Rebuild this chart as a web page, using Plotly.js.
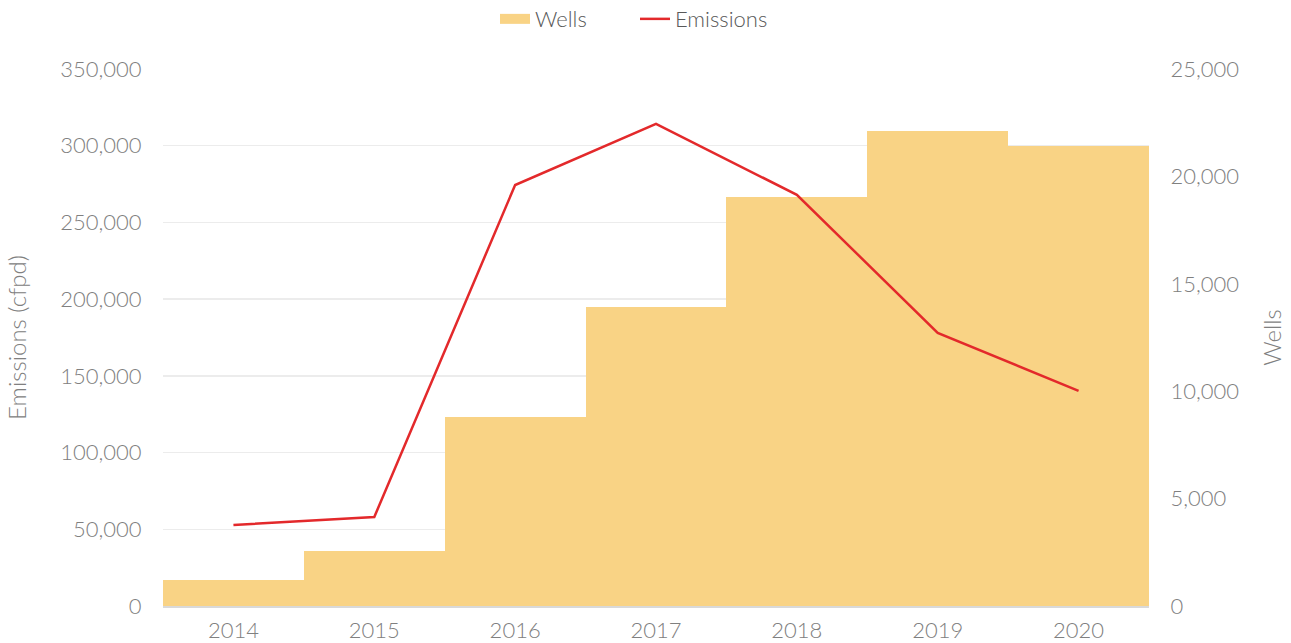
<!DOCTYPE html>
<html>
<head>
<meta charset="utf-8">
<script src="https://cdn.plot.ly/plotly-3.0.1.min.js"></script>
<style>html,body{margin:0;padding:0;background:#fff;}#chart{width:1291px;height:643px;}
#chart .legend .traces{opacity:1 !important;}</style>
</head>
<body>
<div id="chart"></div>
<script>
const years = ['2014','2015','2016','2017','2018','2019','2020'];
const wells = [1200, 2560, 8800, 13900, 19050, 22100, 21400];
const emissions = [52800, 58000, 274400, 314200, 268000, 178000, 140200];
const leftTicks = [0, 50000, 100000, 150000, 200000, 250000, 300000, 350000];
const rightTicks = [0, 5000, 10000, 15000, 20000, 25000];

const fontFam = '"Lato Light", Lato, "Open Sans", sans-serif';
const barColor = '#F9D385';
const traces = [
  {
    type: 'bar', name: 'Wells', x: years, y: wells, yaxis: 'y',
    marker: {color: barColor}, width: 1, showlegend: false
  },
  {
    type: 'scatter', mode: 'lines', name: 'Wells', x: years, y: wells, yaxis: 'y',
    line: {color: barColor, width: 11}, visible: 'legendonly'
  },
  {
    type: 'scatter', mode: 'lines', name: 'Emissions', x: years, y: emissions, yaxis: 'y2',
    line: {color: '#E3292B', width: 2.5}
  }
];
const layout = {
  width: 1291, height: 643,
  margin: {l: 163, r: 142, t: 69, b: 37, autoexpand: false},
  paper_bgcolor: '#fff', plot_bgcolor: '#fff',
  font: {family: fontFam, weight: 300, color: '#808080', size: 22},
  showlegend: true,
  legend: {orientation: 'h', x: 0.4787, xanchor: 'center', y: 1.093, yanchor: 'middle',
    entrywidth: 95, entrywidthmode: 'pixels',
    font: {size: 22, color: '#595959', weight: 400}, traceorder: 'normal', itemclick: false},
  xaxis: {type: 'category', showgrid: false, showline: true, linecolor: '#d9d9d9', linewidth: 1.5,
    ticks: 'outside', ticklen: 4, tickcolor: 'rgba(0,0,0,0)', tickfont: {size: 22, color: '#808080'}, range: [-0.5, 6.5]},
  yaxis2: {range: [0, 350000], tickvals: leftTicks, tickformat: ',d', overlaying: 'y', side: 'left',
    showgrid: true, gridcolor: '#ececec', gridwidth: 1.5, zeroline: false,
    ticks: 'outside', ticklen: 16, tickcolor: 'rgba(0,0,0,0)', tickfont: {size: 22, color: '#808080'},
    title: {text: 'Emissions (cfpd)', font: {size: 24, color: '#808080'}, standoff: 26}},
  yaxis: {range: [0, 25000], tickvals: rightTicks, tickformat: ',d', side: 'right',
    showgrid: false, zeroline: false, ticks: 'outside', ticklen: 16, tickcolor: 'rgba(0,0,0,0)',
    tickfont: {size: 22, color: '#808080'},
    title: {text: 'Wells', font: {size: 24, color: '#808080'}, standoff: 26}},
  bargap: 0
};
Plotly.newPlot('chart', traces, layout, {displayModeBar: false, staticPlot: true});
</script>
</body>
</html>
